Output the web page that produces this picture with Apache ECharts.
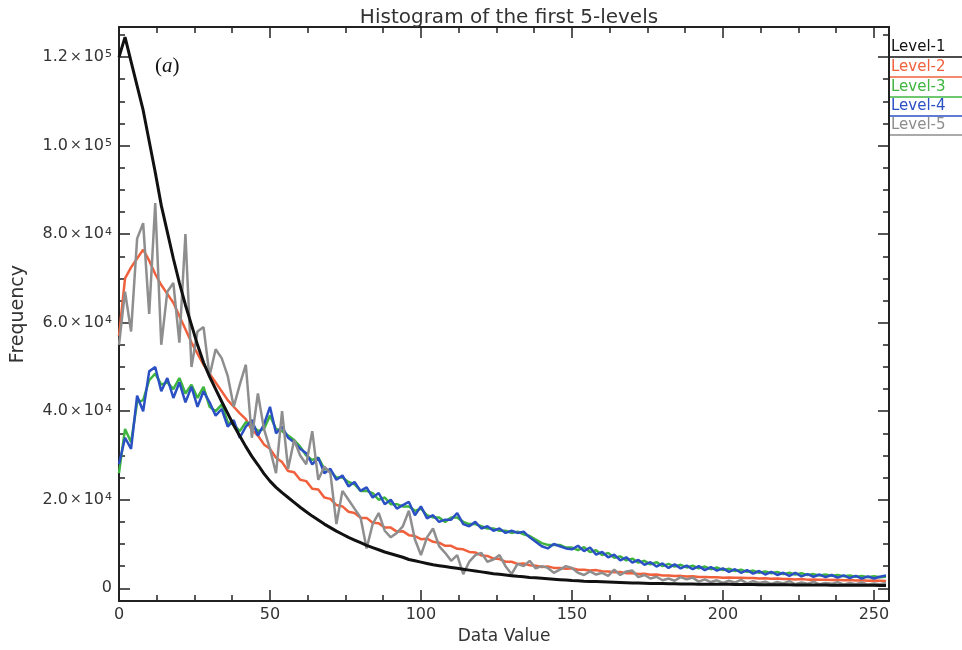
<!DOCTYPE html>
<html>
<head>
<meta charset="utf-8">
<script src="https://cdn.jsdelivr.net/npm/echarts@6/dist/echarts.min.js"></script>
<style>
  html, body { margin: 0; padding: 0; background: #ffffff; }
  #chart { width: 962px; height: 650px; }
</style>
</head>
<body>
<div id="chart"></div>
<script>
// Histogram bins (data value)
const bins = [0,2,4,6,8,10,12,14,16,18,20,22,24,26,28,30,32,34,36,38,40,42,44,46,48,50,52,54,56,58,60,62,64,66,68,70,72,74,76,78,80,82,84,86,88,90,92,94,96,98,100,102,104,106,108,110,112,114,116,118,120,122,124,126,128,130,132,134,136,138,140,142,144,146,148,150,152,154,156,158,160,162,164,166,168,170,172,174,176,178,180,182,184,186,188,190,192,194,196,198,200,202,204,206,208,210,212,214,216,218,220,222,224,226,228,230,232,234,236,238,240,242,244,246,248,250,252,254];

// Frequencies per level
const level1 = [120000,124500,119000,113500,108000,101000,94000,86500,80500,74500,69000,64000,59500,55000,51000,47800,45000,42200,39500,36800,34400,32000,29800,27900,25900,24200,22800,21600,20500,19400,18300,17300,16300,15400,14500,13700,12900,12200,11500,10900,10300,9700,9200,8700,8200,7800,7400,7000,6500,6200,5900,5600,5300,5100,4900,4700,4500,4300,4100,3900,3700,3500,3300,3150,3000,2850,2700,2600,2450,2350,2250,2150,2050,1950,1850,1750,1700,1600,1550,1500,1450,1400,1350,1300,1250,1200,1200,1150,1100,1100,1050,1000,1000,950,950,950,920,900,900,900,880,880,860,850,840,830,820,810,800,790,780,770,760,750,740,730,720,710,700,700,690,680,680,670,660,660,650,650];
const level2 = [57000,70000,72500,74500,76500,74000,71000,68500,66500,64500,61500,58500,55500,53000,50500,48500,46500,44500,42500,41000,39500,38200,35800,34500,32500,31500,29500,28500,26500,26200,24500,24200,22500,22300,20500,20200,18800,18500,17300,17000,15900,15900,14800,14700,13700,13700,12800,12900,12000,11800,11100,11200,10500,10300,9600,9600,8900,8800,8200,8100,7400,7300,6700,6600,6000,6000,5500,5600,5200,5100,4800,4900,4600,4600,4400,4500,4200,4200,4000,4100,3850,3800,3600,3700,3400,3400,3200,3300,3050,3100,2900,2900,2750,2800,2650,2700,2550,2550,2500,2500,2400,2450,2350,2350,2300,2300,2200,2250,2150,2200,2100,2100,2000,2100,1950,2000,1900,1950,1850,1900,1800,1850,1750,1800,1700,1750,1700,1650];
const level3 = [26000,36000,33000,42000,42500,47000,48500,46000,46500,45000,47500,44000,46000,43000,45500,41000,40000,41500,37500,37000,35500,37500,37000,35500,36000,39000,36000,35500,34500,33500,32000,30000,29000,29500,27000,26500,25000,25000,24000,23500,22000,22000,21500,20000,20500,19000,19000,18500,18500,17500,18000,16500,16000,16000,15000,16000,16000,15000,14500,14500,14000,13500,13500,13000,13000,12500,12800,12200,11800,11000,10200,9800,9800,9800,9200,9200,8600,9300,8200,8600,7500,8000,6900,7200,6300,6700,5800,6200,5400,5900,5000,5500,4900,5300,4700,5100,4500,4900,4300,4700,4100,4400,3900,4200,3700,4000,3500,3800,3400,3700,3200,3500,3100,3400,3000,3200,2900,3100,2800,3000,2700,2900,2600,2800,2500,2700,2500,2600];
const level4 = [28000,34000,31500,43500,40000,49000,50000,44500,47500,43000,46500,42000,45500,41000,44500,42000,39000,40500,36500,38000,34000,36500,38000,34500,37000,41000,35000,36500,34000,33000,31500,30500,28000,29500,26000,27000,24500,25500,23000,24000,22000,22800,20500,21500,19000,20000,18000,18800,19500,16500,18500,15800,16500,15000,15500,15500,17000,14500,14000,15000,13500,14000,13000,13500,12500,13000,12500,12800,11500,10500,9500,9000,10000,9500,9000,8800,9600,8400,9200,7600,8200,7000,7600,6300,7000,5800,6400,5300,5900,4900,5600,4600,5400,4500,5100,4300,5000,4100,4800,4000,4500,3700,4300,3500,4100,3300,3900,3100,3700,3000,3500,2800,3500,2700,3200,2600,3100,2500,3000,2400,2900,2300,2800,2200,2700,2200,2600,2900];
const level5 = [55000,67000,58000,79000,82500,62000,87000,55000,67000,69000,55500,80000,50000,58000,59000,48000,54000,52000,48000,41000,46000,50500,34000,44000,36000,31500,26000,40000,27000,33500,30000,28000,35500,24500,27500,26000,14500,22000,20000,18000,16000,9000,14500,17000,13000,11500,12500,14000,17500,11000,7500,11500,13500,9500,8000,6200,7500,3200,6000,7500,8000,6000,6500,7500,5000,3200,5500,5000,6200,4500,5000,4600,3500,4200,5000,4600,3500,3000,3800,3100,3500,2800,4200,3000,3800,4000,2500,3000,2200,2600,1800,2200,1700,2500,2000,2400,1500,2000,1400,1800,1200,1700,1300,1900,1100,1600,1200,1500,1000,1400,1100,1600,900,1300,1000,1500,900,1200,1000,1400,800,1200,900,1300,800,1100,900,1200];

const seriesNames = ['Level-1', 'Level-2', 'Level-3', 'Level-4', 'Level-5'];
const seriesValues = [level1, level2, level3, level4, level5];
const seriesColors = ['#111111', '#f0603c', '#3fb53f', '#2a50c4', '#8e8e8e'];

// Axis tick values
const xMajorTicks = [0, 50, 100, 150, 200, 250];
const xMinorTicks = [12.5, 25, 37.5, 62.5, 75, 87.5, 112.5, 125, 137.5, 162.5, 175, 187.5, 212.5, 225, 237.5];
const yMajorTicks = [0, 20000, 40000, 60000, 80000, 100000, 120000];
const yMinorTicks = [5000, 10000, 15000, 25000, 30000, 35000, 45000, 50000, 55000, 65000, 70000, 75000, 85000, 90000, 95000, 105000, 110000, 115000, 125000];

const X_MIN = 0, X_MAX = 255;
const Y_MIN = -2900, Y_MAX = 126800;
const FONT = 'DejaVu Sans';
const INK = '#222222';

function sciLabel(v) {
  if (v === 0) return '{m|0}';
  const e = Math.floor(Math.log10(v) + 1e-9);
  const m = (v / Math.pow(10, e)).toFixed(1);
  return '{m|' + m + '}{x|×}{m|10}{s|' + e + '}';
}

function xAxisDef(position, ticks, len, withLabels) {
  return {
    type: 'value', position: position, min: X_MIN, max: X_MAX,
    axisLine: { show: true, onZero: false, lineStyle: { color: INK, width: 2 } },
    axisTick: { show: true, inside: true, length: len, customValues: ticks, lineStyle: { color: INK, width: 1.5 } },
    axisLabel: withLabels ? {
      show: true, customValues: ticks, margin: 6, fontFamily: FONT, fontSize: 16, color: '#333'
    } : { show: false },
    splitLine: { show: false }
  };
}

function yAxisDef(position, ticks, len, withLabels) {
  return {
    type: 'value', position: position, min: Y_MIN, max: Y_MAX,
    axisLine: { show: true, onZero: false, lineStyle: { color: INK, width: 2 } },
    axisTick: { show: true, inside: true, length: len, customValues: ticks, lineStyle: { color: INK, width: 1.5 } },
    axisLabel: withLabels ? {
      show: true, customValues: ticks, margin: 7, formatter: sciLabel,
      rich: {
        m: { fontFamily: FONT, fontSize: 16, color: '#333' },
        x: { fontFamily: FONT, fontSize: 14, color: '#333', padding: [0, 2, 0, 2] },
        s: { fontFamily: FONT, fontSize: 11, color: '#333', verticalAlign: 'top', padding: [0, 0, 0, 1] }
      }
    } : { show: false },
    splitLine: { show: false }
  };
}

const xAxes = [
  xAxisDef('bottom', xMajorTicks, 11, true),
  xAxisDef('bottom', xMinorTicks, 6, false),
  xAxisDef('top', xMajorTicks, 11, false),
  xAxisDef('top', xMinorTicks, 6, false)
];
Object.assign(xAxes[0], {
  name: 'Data Value', nameLocation: 'middle', nameGap: 25,
  nameTextStyle: { fontFamily: FONT, fontSize: 17, color: '#333' }
});

const yAxes = [
  yAxisDef('left', yMajorTicks, 11, true),
  yAxisDef('left', yMinorTicks, 6, false),
  yAxisDef('right', yMajorTicks, 11, false),
  yAxisDef('right', yMinorTicks, 6, false)
];
Object.assign(yAxes[0], {
  name: 'Frequency', nameLocation: 'middle', nameGap: 91, nameRotate: 90,
  nameTextStyle: { fontFamily: FONT, fontSize: 19, color: '#333' }
});

const drawOrder = { 'Level-1': 6, 'Level-2': 2, 'Level-3': 3, 'Level-4': 4, 'Level-5': 5 };

const series = seriesNames.map(function (name, i) {
  return {
    name: name, type: 'line', xAxisIndex: 0, yAxisIndex: 0,
    data: bins.map(function (b, k) { return [b, seriesValues[i][k]]; }),
    showSymbol: false, symbol: 'none', silent: true, animation: false,
    z: drawOrder[name],
    lineStyle: { color: seriesColors[i], width: i === 0 ? 3 : 2.5 },
    itemStyle: { color: seriesColors[i] }
  };
});

// Legend: names written above a short rule in each level's colour
const legendGraphics = [];
const legendCenters = [48, 68, 88, 107, 126];
seriesNames.forEach(function (name, i) {
  legendGraphics.push({
    type: 'text', left: 891, top: legendCenters[i] - 8,
    style: { text: name, fontFamily: FONT, fontSize: 15, fill: seriesColors[i] }
  });
  legendGraphics.push({
    type: 'line', shape: { x1: 890, y1: legendCenters[i] + 9, x2: 962, y2: legendCenters[i] + 9 },
    style: { stroke: seriesColors[i], lineWidth: 1.5 }
  });
});

legendGraphics.push({
  type: 'text', left: 155, top: 56,
  style: {
    text: '{p|(}{i|a}{p|)}',
    rich: {
      p: { fontFamily: 'Liberation Serif', fontSize: 21, fill: '#111' },
      i: { fontFamily: 'Liberation Serif', fontStyle: 'italic', fontSize: 21, fill: '#111' }
    }
  }
});

const chart = echarts.init(document.getElementById('chart'), null, { renderer: 'canvas' });
chart.setOption({
  backgroundColor: '#ffffff',
  animation: false,
  title: {
    text: 'Histogram of the first 5-levels', left: 504, top: 3, textAlign: 'center',
    textStyle: { fontFamily: FONT, fontSize: 20, fontWeight: 'normal', color: '#333' }
  },
  grid: { left: 119, right: 73, top: 27, bottom: 36, containLabel: false },
  xAxis: xAxes,
  yAxis: yAxes,
  series: series,
  graphic: legendGraphics
});
</script>
</body>
</html>
